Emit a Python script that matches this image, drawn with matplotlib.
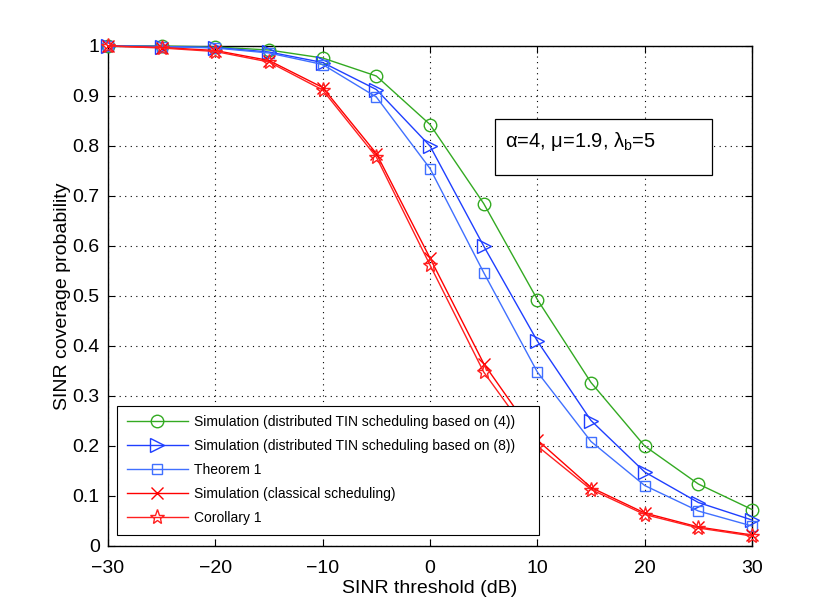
import matplotlib
matplotlib.use("Agg")
import matplotlib.pyplot as plt
from matplotlib.patches import Rectangle

plt.rcParams['font.family'] = ['Liberation Sans', 'DejaVu Sans']
plt.rcParams['mathtext.fontset'] = 'custom'
plt.rcParams['mathtext.rm'] = 'Liberation Sans'
plt.rcParams['mathtext.it'] = 'Liberation Sans'

sinr_db = [-30, -25, -20, -15, -10, -5, 0, 5, 10, 15, 20, 25, 30]
sim_tin4 = [1.0, 1.0, 0.998, 0.992, 0.976, 0.940, 0.843, 0.685, 0.493, 0.327, 0.200, 0.124, 0.073]
sim_tin8 = [1.0, 0.999, 0.997, 0.988, 0.967, 0.913, 0.800, 0.600, 0.410, 0.251, 0.148, 0.087, 0.052]
theorem1 = [1.0, 0.999, 0.996, 0.986, 0.963, 0.898, 0.755, 0.547, 0.348, 0.209, 0.121, 0.070, 0.040]
sim_classical = [1.0, 0.997, 0.991, 0.971, 0.917, 0.785, 0.576, 0.365, 0.212, 0.117, 0.066, 0.038, 0.022]
corollary1 = [1.0, 0.996, 0.989, 0.968, 0.912, 0.778, 0.562, 0.348, 0.200, 0.113, 0.063, 0.036, 0.020]

labels = ['Simulation (distributed TIN scheduling based on (4))',
          'Simulation (distributed TIN scheduling based on (8))',
          'Theorem 1',
          'Simulation (classical scheduling)',
          'Corollary 1']

x_ticks = [-30, -20, -10, 0, 10, 20, 30]
x_ticklabels = ['\u221230', '\u221220', '\u221210', '0', '10', '20', '30']
y_ticks = [0, 0.1, 0.2, 0.3, 0.4, 0.5, 0.6, 0.7, 0.8, 0.9, 1.0]
y_ticklabels = ['0', '0.1', '0.2', '0.3', '0.4', '0.5', '0.6', '0.7', '0.8', '0.9', '1']

fig = plt.figure(figsize=(8.3, 6.15), dpi=100)
ax = fig.add_axes([108 / 830, 69 / 615, 644 / 830, 500 / 615])

kw = dict(lw=1, clip_on=False, zorder=3)
ax.plot(sinr_db, sim_tin4, color='#33aa22', marker='o', mfc='none', ms=9, label=labels[0], **kw)
ax.plot(sinr_db, sim_tin8, color='#1f3fff', marker='>', mfc='none', ms=9.5, label=labels[1], **kw)
ax.plot(sinr_db, theorem1, color='#4070ff', marker='s', mfc='none', ms=7, label=labels[2], **kw)
ax.plot(sinr_db, sim_classical, color='#ff0000', marker='x', mfc='none', ms=8, label=labels[3], **kw)
ax.plot(sinr_db, corollary1, color='#ff2020', marker='*', mfc='none', ms=11, label=labels[4], **kw)

ax.set_xlim(-30, 30)
ax.set_ylim(0, 1)
ax.set_xticks(x_ticks)
ax.set_xticklabels(x_ticklabels)
ax.set_yticks(y_ticks)
ax.set_yticklabels(y_ticklabels)
ax.tick_params(direction='in', top=True, right=True, labelsize=14, length=5)
ax.tick_params(axis='x', pad=10)
ax.tick_params(axis='y', pad=6)
ax.grid(True, linestyle=(0, (1, 4)), color='black', linewidth=0.8)
ax.set_xlabel('SINR threshold (dB)', fontsize=14, labelpad=2)
ax.set_ylabel('SINR coverage probability', fontsize=14, labelpad=1)
for s in ax.spines.values():
    s.set_linewidth(1.0)

leg = ax.legend(loc='lower left', bbox_to_anchor=(9 / 644, 11 / 500, 422 / 644, 0.26), mode='expand',
                borderaxespad=0, fontsize=10, fancybox=False, edgecolor='black', framealpha=1,
                handlelength=4.4, handletextpad=0.45, borderpad=0.7, labelspacing=0.72)
leg.get_frame().set_linewidth(0.8)
leg.set_zorder(5)

ax.add_patch(Rectangle((387 / 644, (546 - 175) / 500), 217 / 644, 56 / 500, transform=ax.transAxes,
                       facecolor='white', edgecolor='black', linewidth=0.9, zorder=4))
ax.text(397 / 644, (546 - 147) / 500, r'$\alpha$=4, $\mu$=1.9, $\lambda_{\rm b}$=5', transform=ax.transAxes,
        fontsize=14.5, va='baseline', ha='left', zorder=6)

fig.savefig('out.png', dpi=100)
